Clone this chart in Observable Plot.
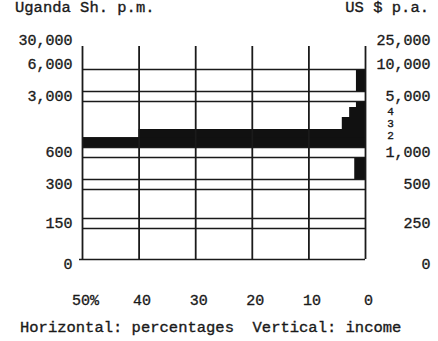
<!DOCTYPE html>
<html><head><meta charset="utf-8">
<script src="https://cdn.jsdelivr.net/npm/d3@7"></script>
<script src="https://cdn.jsdelivr.net/npm/@observablehq/plot@0.6"></script>
<style>
body{margin:0;background:#fff;font-family:"Liberation Mono",monospace;color:#1a1a1a;}
#wrap{width:438px;}
.hdr{height:22px;display:flex;justify-content:space-between;font-size:15.5px;line-height:16px;padding:0 9px 0 15px;box-sizing:border-box;-webkit-text-stroke:0.35px #1a1a1a;}
.cap{font-size:15.5px;line-height:20px;padding:6px 0 0 20px;white-space:pre;-webkit-text-stroke:0.35px #1a1a1a;}
</style></head><body>
<div id="wrap">
<div class="hdr"><span>Uganda Sh. p.m.</span><span>US $ p.a.</span></div>
<div id="chart"></div>
<div class="cap">Horizontal: percentages  Vertical: income</div>
</div>
<script>
// income levels (US $ p.a.) that carry labels on both axes
const levels = [0, 250, 500, 1000, 5000, 10000, 25000];
const shLabels = ["0", "150", "300", "600", "3,000", "6,000", "30,000"];      // Uganda Sh. p.m.
const usdLabels = ["0", "250", "500", "1,000", "5,000", "10,000", "25,000"];  // US $ p.a.
// intermediate step levels (US $ p.a.) marked in thousands
const stepLevels = [2000, 3000, 4000];
const stepLabels = ["2", "3", "4"];
// horizontal axis: percentages
const pctTicks = [50, 40, 30, 20, 10, 0];
const pctLabels = ["50%", "40", "30", "20", "10", "0"];
// black bars: income band (US $ p.a.) and percentage
const bandLow  = [5000, 4000, 3000, 2000, 1000, 1000, 500];
const bandHigh = [10000, 5000, 4000, 3000, 2000, 1650, 1000];
const bandPct  = [1.6, 1.6, 2.8, 4.1, 40, 50, 1.9];
// breaks of the vertical scale (drawn as double lines)
const breaks = [250, 500, 1000, 5000];

const bands = bandLow.map((lo, i) => ({lo, hi: bandHigh[i], pct: bandPct[i]}));
const steps = stepLevels.map((v, i) => ({v, label: stepLabels[i]}));
const ink = "#1a1a1a";
const textStroke = {stroke: ink, strokeWidth: 0.35};
const stepText = {y: "v", text: "label", frameAnchor: "right", textAnchor: "middle", dx: 25, fontSize: 11, fill: ink, ...textStroke};

const chart = Plot.plot({
  width: 438,
  height: 290,
  marginLeft: 82,
  marginRight: 73,
  marginTop: 10,
  marginBottom: 40,
  x: {domain: [50, 0], axis: null},
  y: {
    type: "linear",
    domain: [0, 250, 500, 1000, 2000, 3000, 4000, 5000, 10000, 25000],
    range: [242, 201, 162, 130, 107, 95, 85, 74, 42, 18],
    axis: null
  },
  style: {fontFamily: "'Liberation Mono', monospace", fontSize: "15px", color: ink, background: "white"},
  marks: [
    Plot.rect(bands, {x1: 0, x2: "pct", y1: "lo", y2: "hi", fill: "#111"}),
    Plot.ruleY([...breaks, 10000], {x1: 50, x2: 0, stroke: "white", strokeWidth: 10}),
    Plot.ruleY([0], {x1: 50, x2: 0, dy: -5, insetLeft: -3, stroke: ink, strokeWidth: 1.5}),
    Plot.ruleY(breaks, {x1: 50, x2: 0, dy: -5, stroke: ink, strokeWidth: 1.5}),
    Plot.ruleY([...breaks, 10000], {x1: 50, x2: 0, dy: 5, stroke: ink, strokeWidth: 1.5}),
    Plot.ruleX(pctTicks, {y1: 0, y2: 25000, insetTop: -5, insetBottom: -6, stroke: ink, strokeWidth: 1.8}),
    Plot.text(levels, {y: d => d, text: (d, i) => shLabels[i], frameAnchor: "left", textAnchor: "end", dx: -10, fill: ink, ...textStroke}),
    Plot.text(levels, {y: d => d, text: (d, i) => usdLabels[i], frameAnchor: "right", textAnchor: "end", dx: 65, fill: ink, ...textStroke}),
    Plot.text(steps, {...stepText, filter: d => d.v === 4000, dy: 4}),
    Plot.text(steps, {...stepText, filter: d => d.v !== 4000, dy: 6}),
    Plot.text(pctTicks, {x: d => d, y: 0, text: (d, i) => pctLabels[i], dy: 36, dx: 3, fill: ink, ...textStroke})
  ]
});
document.getElementById("chart").appendChild(chart);
</script>
</body></html>
